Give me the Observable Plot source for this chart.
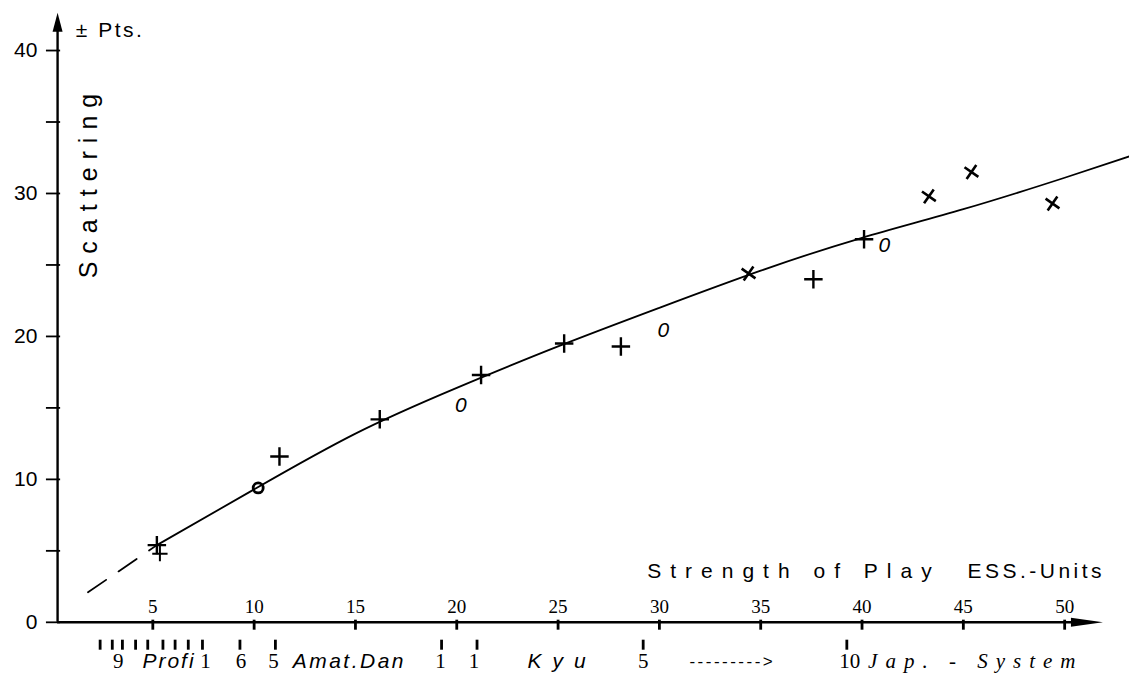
<!DOCTYPE html>
<html>
<head>
<meta charset="utf-8">
<script src="https://cdn.jsdelivr.net/npm/d3@7"></script>
<script src="https://cdn.jsdelivr.net/npm/@observablehq/plot@0.6"></script>
<style>
  html, body { margin: 0; padding: 0; background: #fff; }
  #chart svg { display: block; }
</style>
</head>
<body>
<div id="chart"></div>
<script>
// ---------- data ----------
const xTickValues = [5, 10, 15, 20, 25, 30, 35, 40, 45, 50];
const yTickValues = [0, 5, 10, 15, 20, 25, 30, 35, 40];
const yLabelValues = [0, 10, 20, 30, 40];

// fitted curve (solid) and its dashed extrapolation towards the origin
const curveX = [5.2, 10, 15, 20, 25, 30, 35, 40, 45, 50, 53.2];
const curveY = [5.4, 9.3, 13.2, 16.4, 19.3, 22.0, 24.6, 26.9, 28.9, 31.1, 32.6];
const dashX = [1.8, 5.2];
const dashY = [2.1, 5.4];

// measured points by marker type
const plusX = [5.2, 11.25, 16.2, 21.2, 25.3, 28.1, 37.6, 40.1];
const plusY = [5.4, 11.6, 14.2, 17.3, 19.5, 19.3, 24.0, 26.8];
const smallPlusX = [5.35];
const smallPlusY = [4.8];
const timesX = [34.4, 43.3, 45.4, 49.4];
const timesY = [24.4, 29.8, 31.5, 29.3];
const ohX = [10.2, 20.2, 30.2, 41.1];
const ohY = [9.4, 15.2, 20.4, 26.4];

// Japanese rank system scale under the axis
const japTicks = [2.4, 3.0, 3.5, 4.15, 4.75, 5.5, 6.1, 6.75, 7.45, 9.3, 11.05, 19.25, 21.0, 29.2, 39.25];
const japNumLabels = ["9", "1", "6", "5", "1", "1", "5", "10"];
const japNumX = [3.3, 7.6, 9.35, 10.95, 19.2, 20.85, 29.2, 39.4];
const japWordLabels = ["Profi", "Amat.Dan", "Kyu", "--------->"];
const japWordX = [5.8, 14.7, 25.2, 33.6];
const japSystemLabel = "Jap. - System";
const japSystemX = 40.3;

// axis titles
const yTitle = "Scattering";
const yUnit = "± Pts.";
const xTitle = "Strength of Play";
const xUnit = "ESS.-Units";

// ---------- layout constants (not data) ----------
const W = 1129, H = 679;
const xAxisAt = 0.3;        // y-axis line position in x units
const yBelow1 = -1.25, yBelow2 = -1.95, yBelowText = -2.73;

const zip = (xs, ys) => xs.map((x, i) => ({x, y: ys[i]}));
const curve = zip(curveX, curveY);
const dash = zip(dashX, dashY);
const plus = zip(plusX, plusY);
const smallPlus = zip(smallPlusX, smallPlusY);
const times = zip(timesX, timesY);
const oh = zip(ohX, ohY).map((d, i) => ({...d, bold: i === 0}));
const japNums = japNumLabels.map((t, i) => ({x: japNumX[i], t}));
const japWords = japWordLabels.map((t, i) => ({x: japWordX[i], t}));

const arrowUp = {draw(ctx) { ctx.moveTo(0, -10); ctx.lineTo(5, 9); ctx.lineTo(-5, 9); ctx.closePath(); }};
const arrowRight = {draw(ctx) { ctx.moveTo(16, 0); ctx.lineTo(-16, -4.5); ctx.lineTo(-16, 4.5); ctx.closePath(); }};

const sans = "Liberation Sans, Arial, Helvetica, sans-serif";
const serif = "Liberation Serif, Times New Roman, serif";

const chart = Plot.plot({
  width: W,
  height: H,
  marginLeft: 51,
  marginRight: 0,
  marginTop: 0,
  marginBottom: 0,
  x: {domain: [0, 53.2], axis: null},
  y: {domain: [-4, 43.5], axis: null},
  style: {fontFamily: sans, background: "white", color: "black", overflow: "visible"},
  marks: [
    // axes
    Plot.ruleX([xAxisAt], {y1: 0, y2: 41.5, stroke: "black", strokeWidth: 2.4}),
    Plot.ruleY([0], {x1: xAxisAt, x2: 50.5, stroke: "black", strokeWidth: 2.4}),
    Plot.dot([{x: xAxisAt, y: 41.95}], {x: "x", y: "y", symbol: arrowUp, fill: "black", stroke: "none"}),
    Plot.dot([{x: 51.1, y: 0}], {x: "x", y: "y", symbol: arrowRight, fill: "black", stroke: "none"}),
    // y ticks & labels
    Plot.ruleY(yTickValues, {y: d => d, x1: -0.25, x2: 0.45, stroke: "black", strokeWidth: 1.8}),
    Plot.text(yLabelValues, {x: -0.7, y: d => d, text: d => String(d), textAnchor: "end", fontSize: 21, fontFamily: sans}),
    // x ticks & labels (above the axis line)
    Plot.ruleX(xTickValues, {x: d => d, y1: 0.15, y2: -0.55, stroke: "black", strokeWidth: 2.8}),
    Plot.text(xTickValues, {x: d => d, y: 0, dy: -15, text: d => String(d), fontSize: 19, fontFamily: serif}),
    // Japanese ranks
    Plot.ruleX(japTicks, {x: d => d, y1: yBelow1, y2: yBelow2, stroke: "black", strokeWidth: 2.8}),
    Plot.text(japNums, {x: "x", y: yBelowText, text: "t", fontSize: 21, fontFamily: serif}),
    Plot.text(japWords.slice(0, 3), {x: "x", y: yBelowText, text: "t", fontSize: 21, fontStyle: "italic", fontFamily: sans}),
    Plot.text(japWords.slice(3), {x: "x", y: yBelowText, text: "t", fontSize: 17, fontFamily: sans}),
    Plot.text([japSystemLabel], {x: japSystemX, y: yBelowText, text: d => d, textAnchor: "start", fontSize: 21, fontStyle: "italic", fontFamily: serif}),
    // axis titles
    Plot.text([yUnit], {x: 1.2, y: 41.4, text: d => d, textAnchor: "start", fontSize: 21, fontFamily: sans}),
    Plot.text([yTitle], {x: 1.85, y: 30.8, text: d => d, rotate: -90, fontSize: 25, fontFamily: sans}),
    Plot.text([xTitle], {x: 29.4, y: 3.57, text: d => d, textAnchor: "start", fontSize: 21, fontFamily: sans}),
    Plot.text([xUnit], {x: 45.2, y: 3.57, text: d => d, textAnchor: "start", fontSize: 21, fontFamily: sans}),
    // curve
    Plot.line(dash, {x: "x", y: "y", stroke: "black", strokeWidth: 1.8, strokeDasharray: "22,15"}),
    Plot.line(curve, {x: "x", y: "y", stroke: "black", strokeWidth: 1.8, curve: "natural"}),
    // points
    Plot.dot(plus, {x: "x", y: "y", symbol: "plus", r: 6, stroke: "black", strokeWidth: 2.4}),
    Plot.dot(smallPlus, {x: "x", y: "y", symbol: "plus", r: 5, stroke: "black", strokeWidth: 2}),
    Plot.dot(times, {x: "x", y: "y", symbol: "plus", r: 5.5, rotate: 35, stroke: "black", strokeWidth: 2.6}),
    Plot.text(oh.filter(d => !d.bold), {x: "x", y: "y", text: () => "0", fontSize: 21, fontStyle: "italic", fontFamily: sans}),
    Plot.dot(oh.filter(d => d.bold), {x: "x", y: "y", r: 5, stroke: "black", strokeWidth: 2.8, fill: "none"})
  ]
});

document.getElementById("chart").appendChild(chart);

// letter spacing (style only), matched by text content
const spacing = {
  "Profi": 2, "Amat.Dan": 2.5, "Kyu": 11, "--------->": 2.5, "Jap. - System": 8,
  "± Pts.": 2.5, "Scattering": 8, "Strength of Play": 9, "ESS.-Units": 3.5
};
d3.select(chart).selectAll("text").each(function() {
  const s = spacing[this.textContent];
  if (s != null) this.style.letterSpacing = s + "px";
});
</script>
</body>
</html>
